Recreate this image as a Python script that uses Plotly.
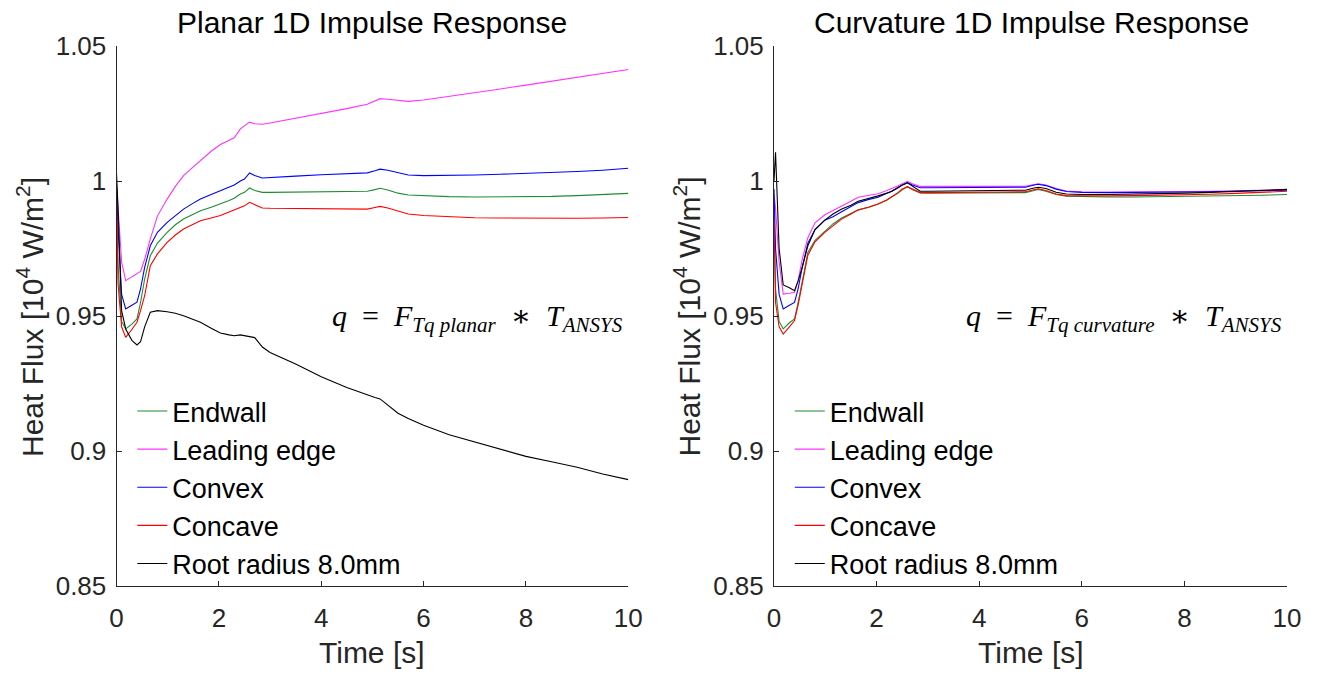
import plotly.graph_objects as go

W, H = 1318, 675

time_s = [0, 0.03, 0.1, 0.18, 0.3, 0.4, 0.47, 0.55, 0.66, 0.8, 0.99, 1.15, 1.31, 1.5, 1.64,
          1.85, 2.03, 2.2, 2.3, 2.42, 2.5, 2.6, 2.7, 2.85, 3.0, 3.5, 4.0, 4.5, 4.9, 5.05,
          5.15, 5.3, 5.5, 5.7, 6.0, 6.5, 7.0, 7.5, 8.0, 8.5, 9.0, 9.5, 10.0]

series_names = ["Endwall", "Leading edge", "Convex", "Concave", "Root radius 8.0mm"]
series_colors = ["#1e8c32", "#ff33ff", "#0000ff", "#ff0000", "#000000"]

# Planar panel
planar_endwall = [0.997, 0.969, 0.948, 0.9452, 0.947, 0.9489, 0.955, 0.9637, 0.9723, 0.977, 0.981,
                  0.9838, 0.9859, 0.9877, 0.989, 0.9903, 0.9915, 0.9928, 0.9936, 0.9952, 0.9958,
                  0.9974, 0.9965, 0.9958, 0.9958, 0.9959, 0.996, 0.9961, 0.9962, 0.9968, 0.9973,
                  0.9967, 0.9955, 0.9948, 0.9945, 0.9942, 0.9941, 0.9941, 0.9942, 0.9943, 0.9946,
                  0.995, 0.9954]
planar_leading = [0.999, 0.99, 0.97, 0.9631, 0.9645, 0.9655, 0.9665, 0.971, 0.9785, 0.987, 0.9933,
                  0.998, 1.002, 1.0052, 1.0075, 1.011, 1.0135, 1.0152, 1.016, 1.0193, 1.0205,
                  1.0218, 1.0212, 1.021, 1.0215, 1.0232, 1.025, 1.0268, 1.0284, 1.0295, 1.0305,
                  1.0303, 1.0298, 1.0295, 1.03, 1.0313, 1.0327, 1.0341, 1.0355, 1.0369, 1.0383,
                  1.0397, 1.0413]
planar_convex = [0.998, 0.983, 0.958, 0.9526, 0.954, 0.9551, 0.96, 0.968, 0.976, 0.981, 0.9847,
                 0.9873, 0.9896, 0.9918, 0.9933, 0.995, 0.9965, 0.9978, 0.9985, 1.0, 1.0007,
                 1.003, 1.002, 1.0011, 1.0013, 1.0018, 1.0023, 1.0027, 1.003, 1.0038, 1.0044,
                 1.004, 1.003, 1.0022, 1.002, 1.002, 1.0022, 1.0025, 1.0028, 1.0031, 1.0035,
                 1.004, 1.0047]
planar_concave = [0.996, 0.962, 0.946, 0.9421, 0.945, 0.9477, 0.952, 0.9575, 0.9686, 0.973, 0.9773,
                  0.98, 0.9822, 0.984, 0.9853, 0.9863, 0.9872, 0.9885, 0.9893, 0.9903, 0.9908,
                  0.9921, 0.9912, 0.99, 0.9899, 0.9898, 0.9897, 0.9897, 0.9896, 0.9902, 0.9906,
                  0.99, 0.9888, 0.9878, 0.9872, 0.9867, 0.9864, 0.9863, 0.9862, 0.9862, 0.9862,
                  0.9863, 0.9865]
planar_root = [1.003, 0.99, 0.952, 0.9452, 0.941, 0.9393, 0.9405, 0.946, 0.9514, 0.952, 0.9516,
               0.951, 0.9501, 0.9488, 0.9477, 0.9455, 0.9437, 0.943, 0.9427, 0.943, 0.9427,
               0.9425, 0.942, 0.9385, 0.9365, 0.9322, 0.9275, 0.9235, 0.9206, 0.9198, 0.9193,
               0.917, 0.914, 0.912, 0.9095, 0.906, 0.9033, 0.9005, 0.898, 0.896, 0.894,
               0.8915, 0.8894]

# Curvature panel
curv_endwall = [0.99, 0.96, 0.948, 0.9452, 0.9475, 0.9489, 0.955, 0.963, 0.9735, 0.978, 0.9815,
                0.9841, 0.9862, 0.988, 0.9893, 0.9903, 0.9915, 0.993, 0.994, 0.9955, 0.9967,
                0.998, 0.9968, 0.9956, 0.9955, 0.9955, 0.9955, 0.9956, 0.9957, 0.9964, 0.9969,
                0.9962, 0.995, 0.9944, 0.9942, 0.9941, 0.9941, 0.9942, 0.9943, 0.9944, 0.9945,
                0.9947, 0.995]
curv_leading = [0.995, 0.99, 0.97, 0.9581, 0.9584, 0.9588, 0.963, 0.971, 0.979, 0.9845, 0.9875,
                0.989, 0.9905, 0.9925, 0.994, 0.9947, 0.9953, 0.9965, 0.9972, 0.9982, 0.999,
                0.9999, 0.999, 0.998, 0.998, 0.998, 0.998, 0.998, 0.998, 0.9986, 0.999,
                0.9985, 0.9972, 0.9963, 0.996, 0.9959, 0.9959, 0.996, 0.9961, 0.9962, 0.9964,
                0.9966, 0.9968]
curv_convex = [0.997, 0.975, 0.958, 0.9526, 0.954, 0.955, 0.96, 0.968, 0.977, 0.982, 0.9855,
               0.9868, 0.9885, 0.9905, 0.992, 0.9932, 0.994, 0.9955, 0.9963, 0.9977, 0.9985,
               0.9994, 0.9985, 0.9975, 0.9975, 0.9975, 0.9976, 0.9976, 0.9977, 0.9984, 0.9988,
               0.9983, 0.997, 0.9961, 0.9958, 0.9957, 0.9957, 0.9958, 0.9959, 0.996, 0.9962,
               0.9964, 0.9966]
curv_concave = [0.985, 0.955, 0.946, 0.9433, 0.946, 0.9483, 0.954, 0.962, 0.9725, 0.9775, 0.981,
                0.9834, 0.9858, 0.9878, 0.9893, 0.9904, 0.9915, 0.993, 0.9942, 0.9958, 0.997,
                0.9978, 0.997, 0.9957, 0.9957, 0.9957, 0.9958, 0.9959, 0.996, 0.9967, 0.9971,
                0.9965, 0.9952, 0.9946, 0.9945, 0.9945, 0.9946, 0.9947, 0.9949, 0.9951, 0.9954,
                0.9957, 0.9962]
curv_root = [1.0, 1.0106, 0.975, 0.9615, 0.9605, 0.9594, 0.963, 0.968, 0.976, 0.982, 0.9855,
             0.9878, 0.9895, 0.991, 0.9925, 0.9935, 0.9945, 0.9955, 0.9962, 0.9975, 0.9985,
             0.9993, 0.998, 0.9962, 0.9962, 0.9963, 0.9964, 0.9965, 0.9966, 0.9973, 0.9977,
             0.9972, 0.9958, 0.9952, 0.995, 0.995, 0.9951, 0.9953, 0.9955, 0.9958, 0.9961,
             0.9964, 0.9969]

x_ticks = [0, 2, 4, 6, 8, 10]
y_ticks = [0.85, 0.9, 0.95, 1.0, 1.05]
y_tick_text = ["0.85", "0.9", "0.95", "1", "1.05"]

panel_titles = ["Planar 1D Impulse Response", "Curvature 1D Impulse Response"]
x_title = "Time [s]"
y_title = "Heat Flux [10<sup>4</sup> W/m<sup>2</sup>]"
SP = "\u2002"
formulas = [
    f"<i>q</i>{SP}={SP}<i>F</i><sub><i>Tq planar</i></sub>{SP}∗{SP}<i>T</i><sub><i>ANSYS</i></sub>",
    f"<i>q</i>{SP}={SP}<i>F</i><sub><i>Tq curvature</i></sub>{SP}∗{SP}<i>T</i><sub><i>ANSYS</i></sub>",
]

SANS = "Liberation Sans, Arial, Helvetica, sans-serif"
SERIF = "Liberation Serif, DejaVu Serif, serif"
AX = "#262626"

fig = go.Figure()

panels = [
    ([planar_endwall, planar_leading, planar_convex, planar_concave, planar_root], "x", "y", "legend"),
    ([curv_endwall, curv_leading, curv_convex, curv_concave, curv_root], "x2", "y2", "legend2"),
]
for data, xa, ya, lg in panels:
    for name, color, vals in zip(series_names, series_colors, data):
        fig.add_trace(go.Scatter(
            x=time_s, y=vals, mode="lines", name=name,
            line=dict(color=color, width=1.1),
            xaxis=xa, yaxis=ya, legend=lg,
        ))

dom_x = [[116.5 / W, 628.3 / W], [774 / W, 1287 / W]]
dom_y = [1 - 586 / H, 1 - 46 / H]

axis_common = dict(
    showline=True, linecolor=AX, linewidth=1, mirror=False,
    ticks="inside", ticklen=5, tickcolor=AX, tickwidth=1,
    showgrid=False, zeroline=False,
    tickfont=dict(family=SANS, size=26, color=AX),
    automargin=False, fixedrange=True,
)

legend_common = dict(
    xanchor="left", yanchor="top", bgcolor="rgba(0,0,0,0)", borderwidth=0,
    font=dict(family=SANS, size=27, color="#000000"), itemwidth=30, tracegroupgap=0,
)

fig.update_layout(
    width=W, height=H,
    margin=dict(l=0, r=0, t=0, b=0),
    paper_bgcolor="white", plot_bgcolor="white",
    xaxis=dict(domain=dom_x[0], range=[0, 10], tickvals=x_ticks, anchor="y",
               ticklabelstandoff=9, **axis_common),
    yaxis=dict(domain=dom_y, range=[0.85, 1.05], tickvals=y_ticks, ticktext=y_tick_text,
               anchor="x", ticklabelstandoff=4, **axis_common),
    xaxis2=dict(domain=dom_x[1], range=[0, 10], tickvals=x_ticks, anchor="y2",
                ticklabelstandoff=9, **axis_common),
    yaxis2=dict(domain=dom_y, range=[0.85, 1.05], tickvals=y_ticks, ticktext=y_tick_text,
                anchor="x2", ticklabelstandoff=4, **axis_common),
    legend=dict(x=132.3 / W, y=1 - 387 / H, **legend_common),
    legend2=dict(x=789.8 / W, y=1 - 387 / H, **legend_common),
    showlegend=True,
)

title_cx = [372 / W, 1031 / W]
ytitle_cx = [30 / W, 687.5 / W]
formula_rx = [625 / W, 1284 / W]
for i in range(2):
    fig.add_annotation(text=panel_titles[i], x=title_cx[i], y=1 - 22 / H, xref="paper", yref="paper",
                       showarrow=False, xanchor="center", yanchor="middle",
                       font=dict(family=SANS, size=30, color="#000000"))
    fig.add_annotation(text=x_title, x=title_cx[i], y=1 - 652 / H, xref="paper", yref="paper",
                       showarrow=False, xanchor="center", yanchor="middle",
                       font=dict(family=SANS, size=30, color=AX))
    fig.add_annotation(text=y_title, x=ytitle_cx[i], y=1 - 317 / H, xref="paper", yref="paper",
                       showarrow=False, xanchor="center", yanchor="middle", textangle=-90,
                       font=dict(family=SANS, size=30, color=AX))
    fig.add_annotation(text=formulas[i], x=formula_rx[i], y=1 - 318 / H, xref="paper", yref="paper",
                       showarrow=False, xanchor="right", yanchor="middle",
                       font=dict(family=SERIF, size=30, color="#000000"))

fig.write_html("out.html", config={"displayModeBar": False},
               post_script="document.body.style.margin='0';document.body.style.overflow='hidden';")
